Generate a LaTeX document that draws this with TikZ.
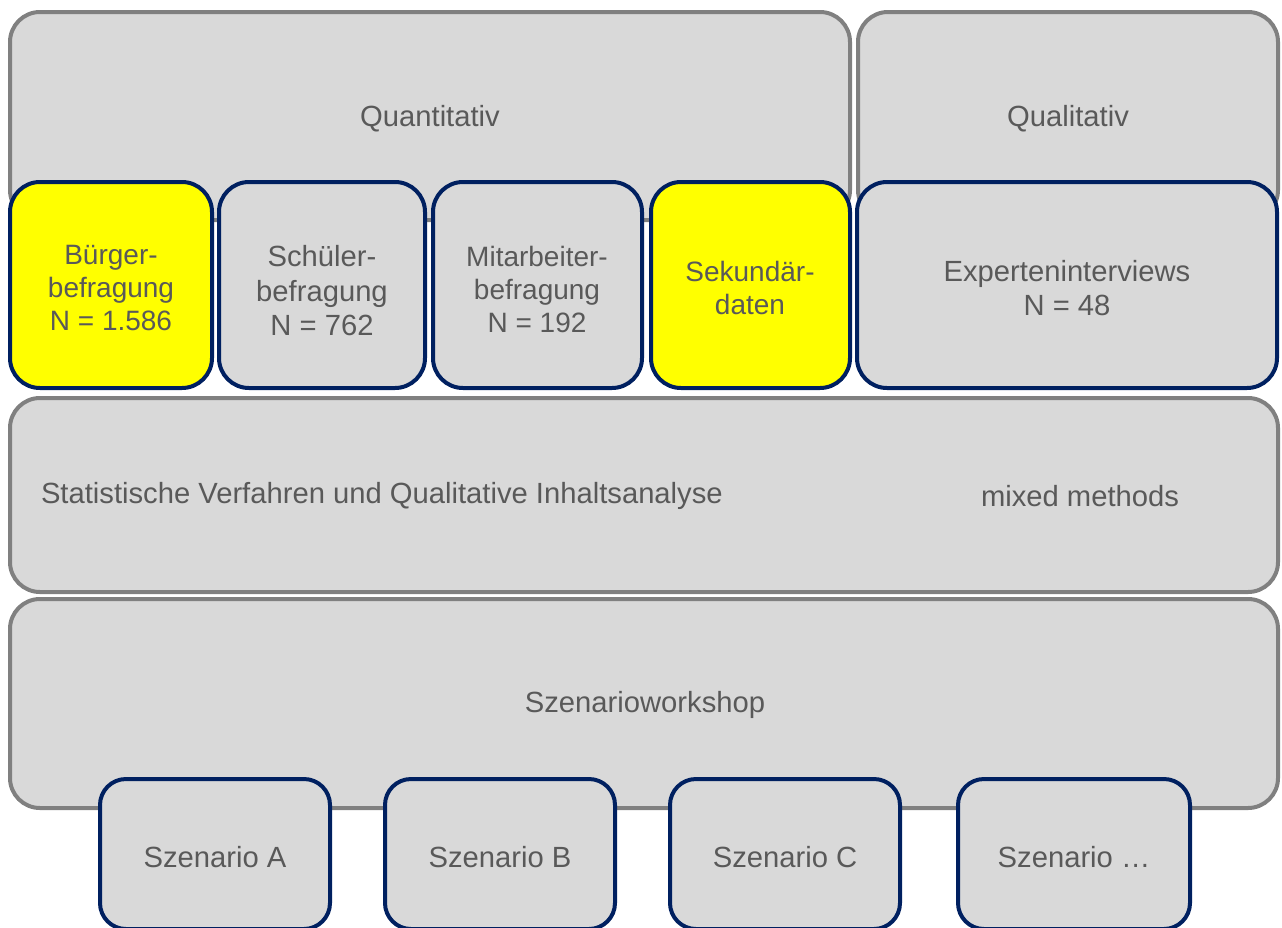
\documentclass[tikz,border=0pt]{standalone}
\usepackage{fontspec}
\setmainfont{Liberation Sans}
\definecolor{boxgray}{HTML}{D9D9D9}
\definecolor{linegray}{HTML}{808080}
\definecolor{navy}{HTML}{002060}
\definecolor{txtgray}{HTML}{595959}
\definecolor{hiyellow}{HTML}{FFFF00}
\begin{document}
\begin{tikzpicture}[x=1pt,y=-1pt,
  every node/.style={inner sep=0pt,outer sep=0pt,text=txtgray,font=\fontsize{28}{33}\selectfont},
  big/.style={font=\fontsize{29.2}{34.5}\selectfont},
  outerbox/.style={draw=linegray,fill=boxgray,line width=4pt,rounded corners=30pt,anchor=north west},
  innerbox/.style={draw=navy,fill=boxgray,line width=4pt,rounded corners=30pt,anchor=north west,align=center},
  yellowbox/.style={innerbox,fill=hiyellow},
  scenbox/.style={draw=navy,fill=boxgray,line width=4pt,rounded corners=26pt,anchor=north west,minimum width=230pt,minimum height=150pt},
  plain/.style={align=center}]
\clip (0,0) rectangle (1282,927);
\fill[white] (0,0) rectangle (1282,927);
% top row
\node[outerbox,minimum width=840pt,minimum height=208pt] (quant) at (10,12) {};
\node[plain,big] (quantt) at (430,119) {Quantitativ};
\node[outerbox,minimum width=420pt,minimum height=208pt] (qual) at (858,12) {};
\node[plain,big] (qualt) at (1068,119) {Qualitativ};
% survey boxes
\node[yellowbox,minimum width=202pt,minimum height=206pt] (buerger) at (10,182) {};
\node[plain] at (111,288) {Bürger-\\befragung\\N = 1.586};
\node[innerbox,minimum width=206pt,minimum height=206pt] (schueler) at (219,182) {};
\node[plain,big] at (322,291) {Schüler-\\befragung\\N = 762};
\node[innerbox,minimum width=209pt,minimum height=206pt] (mitarb) at (433,182) {};
\node[plain] at (537,289) {Mitarbeiter-\\befragung\\N = 192};
\node[yellowbox,minimum width=199pt,minimum height=206pt] (sek) at (651,182) {};
\node[plain] at (750,288) {Sekundär-\\daten};
\node[innerbox,minimum width=420pt,minimum height=206pt] (expert) at (857,182) {};
\node[plain,big] at (1067,288) {Experteninterviews\\N = 48};
% analysis
\node[outerbox,minimum width=1268pt,minimum height=194pt] (analysis) at (10,398) {};
\node[big,anchor=west] (statt) at (41,496) {Statistische Verfahren und Qualitative Inhaltsanalyse};
\node[big] (mixed) at (1080,496) {mixed methods};
% workshop
\node[outerbox,minimum width=1268pt,minimum height=209pt] (workshop) at (10,599) {};
\node[big] (workt) at (645,705) {Szenarioworkshop};
% scenarios
\node[scenbox] (sa) at (100,779) {};
\node[big] at (215,857) {Szenario A};
\node[scenbox] (sb) at (385,779) {};
\node[big] at (500,857) {Szenario B};
\node[scenbox] (sc) at (670,779) {};
\node[big] at (785,857) {Szenario C};
\node[scenbox,minimum width=232pt] (sd) at (958,779) {};
\node[big] at (1074,857) {Szenario …};
\end{tikzpicture}
\end{document}
